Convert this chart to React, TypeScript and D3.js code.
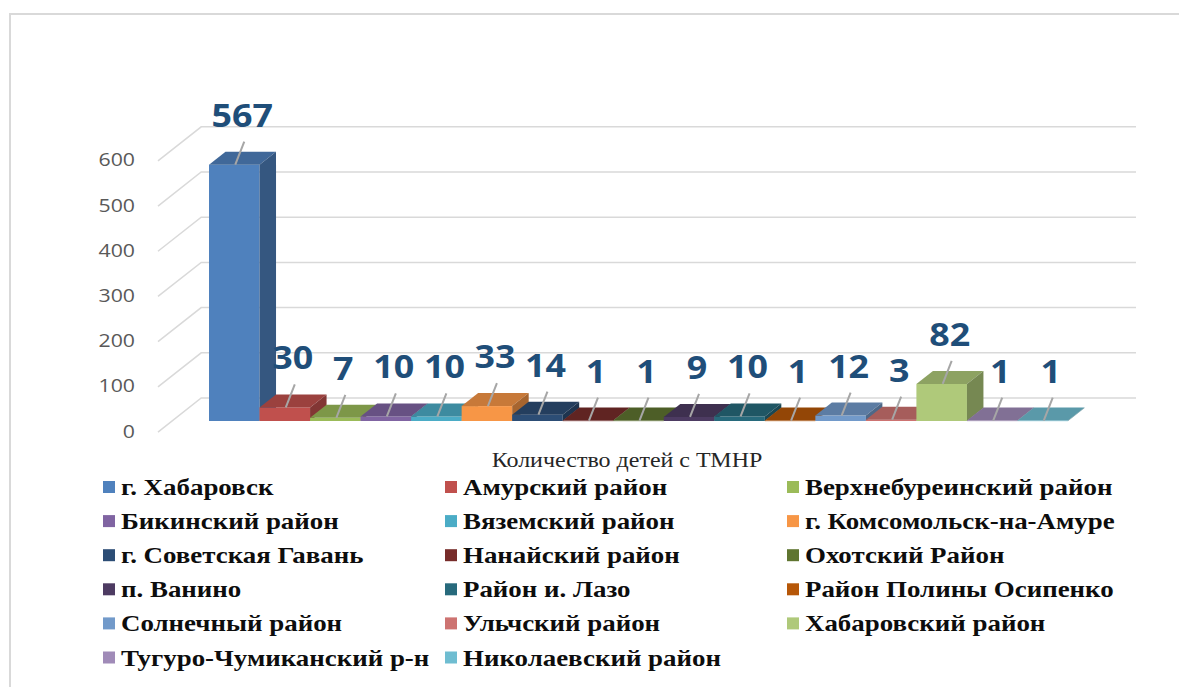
import React from 'react';
import * as d3 from 'd3';

// data
const categories = [
  'г. Хабаровск',
  'Амурский район',
  'Верхнебуреинский район',
  'Бикинский район',
  'Вяземский район',
  'г. Комсомольск-на-Амуре',
  'г. Советская Гавань',
  'Нанайский район',
  'Охотский  Район',
  'п. Ванино',
  'Район и. Лазо',
  'Район Полины Осипенко',
  'Солнечный район',
  'Ульчский район',
  'Хабаровский район',
  'Тугуро-Чумиканский р-н',
  'Николаевский район',
];
const values = [567, 30, 7, 10, 10, 33, 14, 1, 1, 9, 10, 1, 12, 3, 82, 1, 1];
const yTicks = [0, 100, 200, 300, 400, 500, 600];
const seriesTitle = 'Количество детей с ТМНР';
const colors = [
  '#4F81BD', '#C0504D', '#9BBB59', '#8064A2', '#4BACC6', '#F79646',
  '#2C4D75', '#772C2A', '#5F7530', '#4D3B62', '#276A7C', '#B65708',
  '#729ACA', '#CD7371', '#AFC97A', '#A08BB8', '#6FBDD1',
];

const W = 1179;
const H = 687;

// oblique "3d" offset per unit of depth
const dX = 16.5;
const dY = -13;
const zFront = -0.85;
const zBack = 1.77;

// the source picture is a bit stretched sideways
const sx = 1.17;

export default function App() {
  const x = d3.scaleBand<string>().domain(categories).range([209, 1068]).padding(0);
  const y = d3.scaleLinear().domain([0, 600]).range([421, 149.8]);
  const bw = x.bandwidth();

  const wallX = 172;
  const backRight = 1136;

  const shade = (c: string, k: number) => d3.rgb(c).darker(k).formatHex();

  return (
    <svg
      width={W}
      height={H}
      style={{ position: 'absolute', left: 0, top: 0, background: '#fff' }}
      fontFamily="'Open Sans', sans-serif"
    >
      <rect width={W} height={H} fill="#fff" />
      {/* chart frame */}
      <path d={`M10,${H + 5} V14 H${W + 5}`} fill="none" stroke="#d9d9d9" strokeWidth={2} />

      {/* walls: side diagonals + back gridlines */}
      {yTicks.map((t) => {
        const yy = y(t);
        const fx = wallX + zFront * dX;
        const fy = yy + zFront * dY;
        const bx = wallX + zBack * dX;
        const by = yy + zBack * dY;
        return (
          <g key={t}>
            <path
              d={`M${fx},${fy} L${bx},${by} H${backRight}`}
              fill="none"
              stroke="#d9d9d9"
              strokeWidth={1.5}
            />
            <text
              transform={`translate(135,${fy - 2}) scale(1.12,1)`}
              textAnchor="end"
              dominantBaseline="central"
              fontSize={19}
              fill="#595959"
            >
              {t}
            </text>
          </g>
        );
      })}

      {/* bars */}
      {categories.map((c, i) => {
        const x0 = x(c) as number;
        const x1 = x0 + bw;
        const yb = y(0);
        const yt = y(values[i]);
        const col = colors[i];
        return (
          <g key={c}>
            <rect x={x0} y={yt} width={bw} height={Math.max(0.6, yb - yt)} fill={col} />
            <path
              d={`M${x0},${yt} L${x1},${yt} L${x1 + dX},${yt + dY} L${x0 + dX},${yt + dY} Z`}
              fill={shade(col, 0.6)}
            />
            <path
              d={`M${x1},${yt} L${x1 + dX},${yt + dY} L${x1 + dX},${yb + dY} L${x1},${yb} Z`}
              fill={shade(col, 1.1)}
            />
          </g>
        );
      })}

      {/* data labels with leader lines */}
      {categories.map((c, i) => {
        const lx = (x(c) as number) + bw / 2 + 1;
        const ly = y(values[i]);
        const ex = lx + 9;
        const ey = ly - 23;
        return (
          <g key={'l' + c}>
            <line x1={lx} y1={ly} x2={ex} y2={ey} stroke="#a6a6a6" strokeWidth={2} />
            <text
              transform={`translate(${ex - 2},${ey - 15}) scale(1.12,1)`}
              textAnchor="middle"
              fontSize={32}
              fontWeight={700}
              fill="#1F4E79"
            >
              {values[i]}
            </text>
          </g>
        );
      })}

      {/* series title */}
      <text
        transform={`translate(627,467) scale(1.2,1)`}
        textAnchor="middle"
        fontFamily="'Liberation Serif', serif"
        fontSize={20}
        fill="#262626"
      >
        {seriesTitle}
      </text>

      {/* legend */}
      {categories.map((c, i) => {
        const row = Math.floor(i / 3);
        const colN = i % 3;
        const lx = 103 + colN * 342;
        const ly = 487 + row * 34.1;
        return (
          <g key={'g' + c}>
            <rect x={lx} y={ly - 6} width={12} height={12} fill={colors[i]} />
            <text
              transform={`translate(${lx + 18},${ly + 8}) scale(${sx},1)`}
              fontFamily="'Liberation Serif', serif"
              fontWeight={700}
              fontSize={23}
              fill="#0d0d0d"
            >
              {c}
            </text>
          </g>
        );
      })}
    </svg>
  );
}
